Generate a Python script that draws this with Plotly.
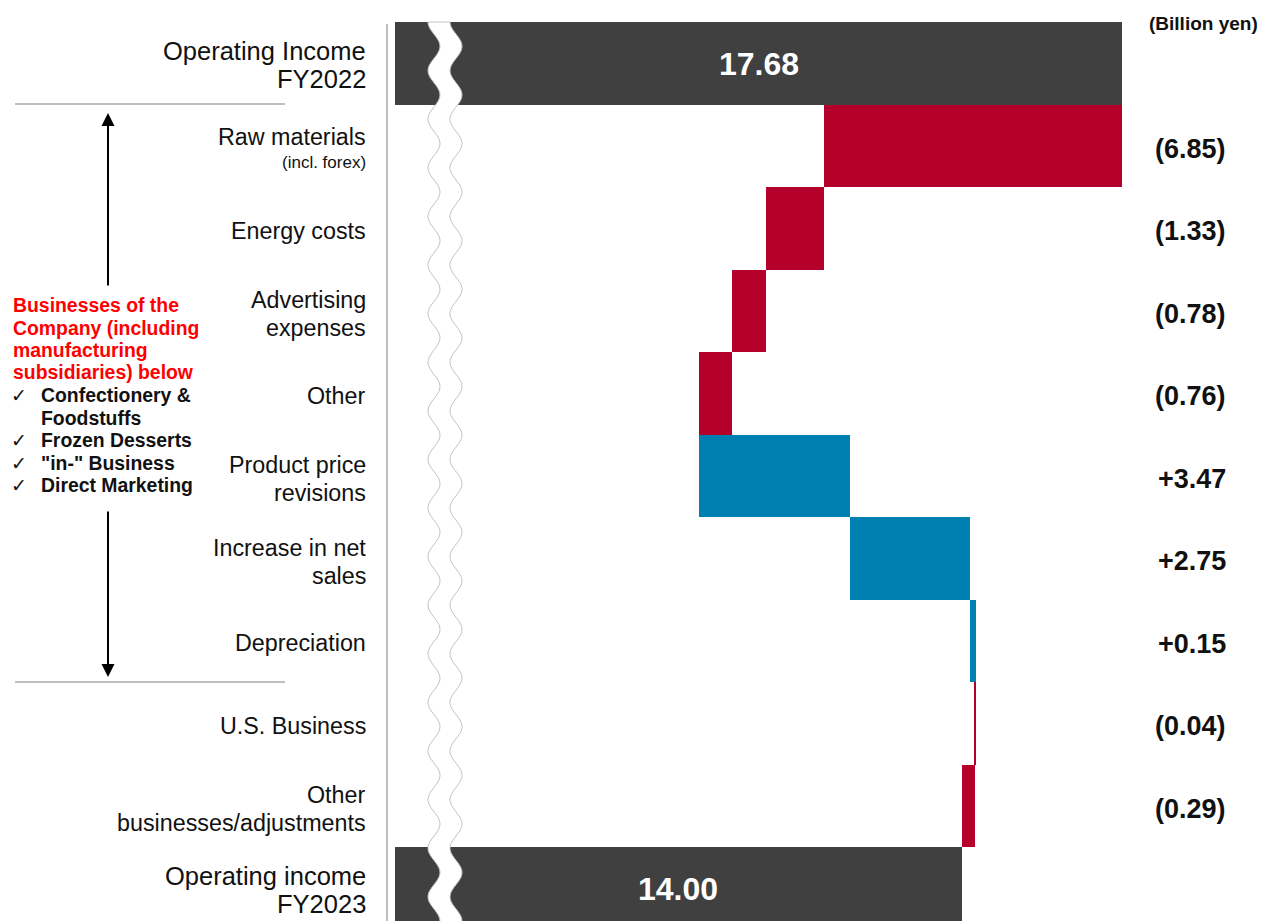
import math
import plotly.graph_objects as go

# ---- data -------------------------------------------------------------
categories = [
    "Operating Income\nFY2022",
    "Raw materials",
    "Energy costs",
    "Advertising\nexpenses",
    "Other",
    "Product price\nrevisions",
    "Increase in net\nsales",
    "Depreciation",
    "U.S. Business",
    "Other\nbusinesses/adjustments",
    "Operating income\nFY2023",
]
category_notes = {"Raw materials": "(incl. forex)"}
measures = ["total", "delta", "delta", "delta", "delta", "delta",
            "delta", "delta", "delta", "delta", "total"]
values = [17.68, -6.85, -1.33, -0.78, -0.76, 3.47, 2.75, 0.15, -0.04, -0.29, 14.00]

side_title = ["Businesses of the", "Company (including",
              "manufacturing", "subsidiaries) below"]
side_items = [["Confectionery &", "Foodstuffs"], ["Frozen Desserts"],
              ['"in-" Business'], ["Direct Marketing"]]
unit_label = "(Billion yen)"

# ---- page geometry (pixels) -------------------------------------------
FIG_W, FIG_H = 1264, 921
M_L, M_T = 395, 22
PLOT_W, PLOT_H = FIG_W - M_L, FIG_H - M_T
PX_PER_UNIT = 43.5
X_MIN = 0.967                      # axis is broken: starts just under 1
X_MAX = X_MIN + PLOT_W / PX_PER_UNIT
ROW_PX = 82.5
Y_BOTTOM = -0.5 + PLOT_H / ROW_PX

FONT = "Liberation Sans, Arial, sans-serif"
C_TOTAL, C_NEG, C_POS = "#404040", "#B4002B", "#0080B1"
C_RULE = "#BFBFBF"
C_TEXT = "#111111"


def px2x(px):
    return (px - M_L) / PLOT_W


def py2y(py):
    return (FIG_H - py) / PLOT_H


# ---- waterfall geometry from the values --------------------------------
rows = list(range(len(categories)))
bases, lengths, colors = [], [], []
running = 0.0
for m, v in zip(measures, values):
    if m == "total":
        bases.append(0.0)
        lengths.append(v)
        colors.append(C_TOTAL)
        running = v
    else:
        bases.append(min(running, running + v))
        lengths.append(abs(v))
        colors.append(C_NEG if v < 0 else C_POS)
        running += v

fig = go.Figure(go.Bar(
    y=rows, x=lengths, base=bases, orientation="h",
    marker=dict(color=colors, line=dict(width=0)),
    width=1.0, hoverinfo="skip",
))

annotations = []
shapes = []

# category labels, right-aligned left of the axis
for r, m, name in zip(rows, measures, categories):
    lines = name.split("\n")
    note = category_notes.get(name)
    size = 25.5 if m == "total" else 23.3
    if note:
        offsets = [-9]
    elif len(lines) == 2:
        offsets = [-12.5, 15.5] if m == "total" else [-10.5, 17.5]
    else:
        offsets = [2.5]
    for txt, off in zip(lines, offsets):
        annotations.append(dict(
            text=txt, xref="paper", x=px2x(368), xanchor="right",
            yref="y", y=r, yanchor="middle", yshift=-off, showarrow=False,
            font=dict(family=FONT, size=size, color=C_TEXT)))
    if note:
        annotations.append(dict(
            text=note, xref="paper", x=px2x(368), xanchor="right",
            yref="y", y=r, yanchor="middle", yshift=-17, showarrow=False,
            font=dict(family=FONT, size=17, color=C_TEXT)))

# values: totals inside their bars, deltas at the right
for r, m, v in zip(rows, measures, values):
    if m == "total":
        annotations.append(dict(
            text=f"{v:.2f}", xref="x", x=(X_MIN + v) / 2, yref="y", y=r,
            yshift=-1, showarrow=False,
            font=dict(family=FONT, size=32, color="white", weight="bold")))
    else:
        label = f"({abs(v):.2f})" if v < 0 else f"+{v:.2f}"
        annotations.append(dict(
            text=label, xref="paper", x=px2x(1228), xanchor="right",
            yref="y", y=r, yshift=-3, showarrow=False,
            font=dict(family=FONT, size=27, color=C_TEXT, weight="bold")))

annotations.append(dict(
    text=unit_label, xref="paper", x=px2x(1260), xanchor="right",
    yref="paper", y=py2y(23), yanchor="middle", showarrow=False,
    font=dict(family=FONT, size=19, color=C_TEXT, weight="bold")))

# side note on the company businesses
line_y = 305
for t in side_title:
    annotations.append(dict(
        text=t, xref="paper", x=px2x(11), xanchor="left",
        yref="paper", y=py2y(line_y), yanchor="middle", showarrow=False,
        font=dict(family=FONT, size=19.4, color="#FF0000", weight="bold")))
    line_y += 22.5
for item in side_items:
    annotations.append(dict(
        text="\u2713", xref="paper", x=px2x(9), xanchor="left",
        yref="paper", y=py2y(line_y), yanchor="middle", showarrow=False,
        font=dict(family="DejaVu Sans", size=19, color=C_TEXT)))
    for t in item:
        annotations.append(dict(
            text=t, xref="paper", x=px2x(39), xanchor="left",
            yref="paper", y=py2y(line_y), yanchor="middle", showarrow=False,
            font=dict(family=FONT, size=19.4, color=C_TEXT, weight="bold")))
        line_y += 22.5

# bracket arrows
annotations.append(dict(
    text="", xref="paper", x=px2x(108), yref="paper", y=py2y(113),
    ax=0, ay=174, showarrow=True, arrowhead=2, arrowsize=1.3,
    arrowwidth=2, arrowcolor="#000000"))
annotations.append(dict(
    text="", xref="paper", x=px2x(108), yref="paper", y=py2y(677),
    ax=0, ay=-167, showarrow=True, arrowhead=2, arrowsize=1.3,
    arrowwidth=2, arrowcolor="#000000"))

for ypx in (104, 682):
    shapes.append(dict(type="line", xref="paper", yref="paper",
                       x0=px2x(15), x1=px2x(285), y0=py2y(ypx), y1=py2y(ypx),
                       line=dict(color=C_RULE, width=2)))

# axis line left of the bars
shapes.append(dict(type="line", xref="paper", yref="paper",
                   x0=px2x(387), x1=px2x(387), y0=py2y(24), y1=py2y(FIG_H),
                   line=dict(color=C_RULE, width=2)))

# wavy axis break
PERIOD, AMP = 48.6, 6.0
left_c, right_c = 434.0, 456.0
ys = [M_T + i * 2 for i in range(int(PLOT_H / 2) + 2)]
left_pts = [(left_c - AMP * math.cos(2 * math.pi * (y - M_T) / PERIOD), y) for y in ys]
right_pts = [(right_c - AMP * math.cos(2 * math.pi * (y - M_T) / PERIOD), y) for y in ys]
pts = left_pts + right_pts[::-1]
path = "M " + " L ".join(f"{px2x(x):.5f},{py2y(y):.5f}" for x, y in pts) + " Z"
shapes.append(dict(type="path", xref="paper", yref="paper", path=path,
                   fillcolor="white", line=dict(color="#C4C4C4", width=1),
                   layer="above"))

fig.update_layout(
    width=FIG_W, height=FIG_H,
    margin=dict(l=M_L, r=0, t=M_T, b=0, pad=0, autoexpand=False),
    paper_bgcolor="white", plot_bgcolor="white",
    bargap=0, showlegend=False,
    xaxis=dict(range=[X_MIN, X_MAX], visible=False, fixedrange=True),
    yaxis=dict(range=[Y_BOTTOM, -0.5], showticklabels=False, showgrid=False,
               zeroline=False, showline=False, ticks="", fixedrange=True),
    annotations=annotations, shapes=shapes,
)

fig.write_html("out.html")
